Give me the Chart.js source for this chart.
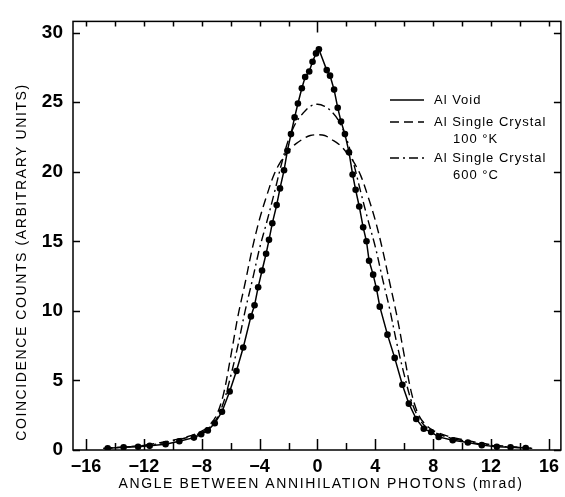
<!DOCTYPE html>
<html>
<head>
<meta charset="utf-8">
<script src="https://cdn.jsdelivr.net/npm/chart.js"></script>
<style>
  html, body { margin: 0; padding: 0; background: #fff; }
  #wrap { width: 565px; height: 497px; }
</style>
</head>
<body>
<div id="wrap"><canvas id="grafico" width="565" height="497"></canvas></div>
<script>
// Dados
const voidX = [-14.5, -13.4, -12.4, -11.6, -10.5, -9.55, -8.54, -8.04, -7.58, -7.1, -6.6, -6.07, -5.6, -5.13, -4.6, -4.35, -4.1, -3.83, -3.55, -3.35, -3.12, -2.82, -2.59, -2.31, -2.08, -1.83, -1.58, -1.35, -1.08, -0.85, -0.57, -0.34, -0.1, 0.1, 0.64, 0.87, 1.15, 1.4, 1.63, 1.9, 2.18, 2.43, 2.64, 2.89, 3.16, 3.39, 3.57, 3.85, 4.08, 4.31, 4.84, 5.34, 5.87, 6.32, 6.83, 7.35, 7.86, 8.38, 9.35, 10.4, 11.36, 12.4, 13.35, 14.4];
const voidY = [0.12, 0.19, 0.23, 0.30, 0.42, 0.63, 0.89, 1.13, 1.41, 1.92, 2.75, 4.2, 5.68, 7.37, 9.6, 10.4, 11.7, 12.9, 14.1, 15.1, 16.3, 17.6, 18.8, 20.1, 21.5, 22.7, 23.9, 24.9, 26.0, 26.8, 27.2, 27.9, 28.5, 28.8, 27.3, 26.9, 25.9, 24.6, 23.6, 22.7, 21.4, 19.8, 18.7, 17.5, 16.0, 15.0, 13.6, 12.6, 11.6, 10.3, 8.29, 6.62, 4.69, 3.33, 2.23, 1.53, 1.29, 0.94, 0.70, 0.54, 0.35, 0.23, 0.19, 0.14];

const crystal100X = [-14.8, -13, -12, -11, -10, -9, -8, -7.5, -7, -6.5, -6, -5.5, -5, -4.5, -4, -3.5, -3, -2.5, -2, -1.5, -1, -0.5, 0, 0.5, 1, 1.5, 2, 2.5, 3, 3.5, 4, 4.5, 5, 5.5, 6, 6.5, 7, 7.5, 8, 9, 10, 11, 12, 13, 14.85];
const crystal100Y = [0.12, 0.25, 0.35, 0.5, 0.7, 0.95, 1.35, 1.75, 2.45, 4.0, 6.7, 9.6, 12.0, 14.5, 16.6, 18.3, 19.8, 20.8, 21.5, 22.0, 22.35, 22.6, 22.65, 22.6, 22.3, 21.95, 21.4, 20.7, 19.7, 18.2, 16.5, 14.4, 12.0, 9.6, 6.8, 4.1, 2.5, 1.8, 1.4, 1.0, 0.75, 0.55, 0.38, 0.27, 0.12];

const crystal600X = [-14.8, -13, -12, -11, -10, -9, -8, -7.5, -7, -6.5, -6, -5.5, -5, -4.5, -4, -3.5, -3, -2.5, -2, -1.5, -1, -0.5, 0, 0.5, 1, 1.5, 2, 2.5, 3, 3.5, 4, 4.5, 5, 5.5, 6, 6.5, 7, 7.5, 8, 9, 10, 11, 12, 13, 14.85];
const crystal600Y = [0.12, 0.23, 0.32, 0.45, 0.65, 0.9, 1.25, 1.6, 2.2, 3.4, 5.3, 7.5, 10.0, 12.2, 14.5, 16.4, 18.4, 20.5, 22.3, 23.5, 24.2, 24.7, 24.85, 24.7, 24.3, 23.6, 22.4, 20.6, 18.5, 16.5, 14.6, 12.3, 10.1, 7.6, 5.4, 3.5, 2.3, 1.65, 1.3, 0.92, 0.68, 0.48, 0.33, 0.24, 0.12];

const xTickValues = [-16, -12, -8, -4, 0, 4, 8, 12, 16];
const xTickLabels = ['\u221216', '\u221212', '\u22128', '\u22124', '0', '4', '8', '12', '16'];
const xMinorValues = [-16, -14, -12, -10, -8, -6, -4, -2, 0, 2, 4, 6, 8, 10, 12, 14, 16];
const yTickValues = [0, 5, 10, 15, 20, 25, 30];
const yTickLabels = ['0', '5', '10', '15', '20', '25', '30'];

const seriesNames = ['Al Void', 'Al Single Crystal', 'Al Single Crystal'];
const seriesSubNames = ['', '100 \u00B0K', '600 \u00B0C'];
const xTitle = 'ANGLE BETWEEN ANNIHILATION PHOTONS (mrad)';
const yTitle = 'COINCIDENCE COUNTS (ARBITRARY UNITS)';

function pares(xs, ys) {
    return xs.map((x, i) => ({ x: x, y: ys[i] }));
}

const DASH = [9, 5];
const DASHDOT = [9, 4, 2, 4];
const FONTE = '"Liberation Sans", Arial, sans-serif';

// Moldura, marcas internas, titulos dos eixos e legenda
const molduraPlugin = {
    id: 'moldura',
    afterDraw(chart) {
        const ctx = chart.ctx;
        const a = chart.chartArea;
        const x = chart.scales.x;
        const y = chart.scales.y;
        ctx.save();
        ctx.strokeStyle = '#000';
        ctx.lineWidth = 1.5;
        ctx.setLineDash([]);
        ctx.strokeRect(a.left, a.top, a.right - a.left, a.bottom - a.top);

        ctx.beginPath();
        xMinorValues.forEach(v => {
            const px = Math.round(x.getPixelForValue(v)) + 0.5;
            const lenB = (v % 4 === 0) ? 11 : 7;
            ctx.moveTo(px, a.bottom);
            ctx.lineTo(px, a.bottom - lenB);
            const lenT = (v === 0) ? 11 : 5;
            ctx.moveTo(px, a.top);
            ctx.lineTo(px, a.top + lenT);
        });
        yTickValues.forEach(v => {
            const py = Math.round(y.getPixelForValue(v)) + 0.5;
            ctx.moveTo(a.left, py);
            ctx.lineTo(a.left + 7, py);
            ctx.moveTo(a.right, py);
            ctx.lineTo(a.right - 7, py);
        });
        ctx.stroke();

        // titulos dos eixos
        ctx.fillStyle = '#000';
        ctx.font = '14px ' + FONTE;
        ctx.letterSpacing = '1.6px';
        ctx.textAlign = 'center';
        ctx.textBaseline = 'middle';
        ctx.fillText(xTitle, 321, 484);
        ctx.save();
        ctx.translate(22, 262);
        ctx.rotate(-Math.PI / 2);
        ctx.fillText(yTitle, 0, 0);
        ctx.restore();

        // legenda
        ctx.font = '13px ' + FONTE;
        ctx.letterSpacing = '1px';
        ctx.textAlign = 'left';
        const linhas = [[], DASH, DASHDOT];
        const ys = [100, 122, 158];
        ctx.lineWidth = 1.3;
        for (let i = 0; i < 3; i++) {
            ctx.setLineDash(linhas[i]);
            ctx.beginPath();
            ctx.moveTo(390, ys[i]);
            ctx.lineTo(424, ys[i]);
            ctx.stroke();
            ctx.fillText(seriesNames[i], 434, ys[i]);
            if (seriesSubNames[i]) {
                ctx.fillText(seriesSubNames[i], 453, ys[i] + 17);
            }
        }
        ctx.restore();
    }
};

new Chart(document.getElementById('grafico'), {
    type: 'scatter',
    data: {
        datasets: [
            {
                label: 'Al Void',
                data: pares(voidX, voidY),
                showLine: true,
                borderColor: '#000',
                borderWidth: 1.5,
                backgroundColor: '#000',
                pointRadius: 3.3,
                pointBackgroundColor: '#000',
                pointBorderWidth: 0,
                tension: 0
            },
            {
                label: 'Al Single Crystal 100 K',
                data: pares(crystal100X, crystal100Y),
                showLine: true,
                borderColor: '#000',
                borderWidth: 1.4,
                borderDash: DASH,
                pointRadius: 0,
                tension: 0.35
            },
            {
                label: 'Al Single Crystal 600 C',
                data: pares(crystal600X, crystal600Y),
                showLine: true,
                borderColor: '#000',
                borderWidth: 1.4,
                borderDash: DASHDOT,
                pointRadius: 0,
                tension: 0.35
            }
        ]
    },
    options: {
        responsive: false,
        devicePixelRatio: 1,
        animation: false,
        layout: { padding: { top: 13, right: 1, left: 0, bottom: 0 } },
        plugins: {
            legend: { display: false },
            tooltip: { enabled: false }
        },
        scales: {
            x: {
                type: 'linear',
                min: -16.9,
                max: 16.83,
                grid: { display: false, drawTicks: false },
                border: { display: false },
                afterBuildTicks: s => { s.ticks = xTickValues.map(v => ({ value: v })); },
                afterFit: s => { s.height = 47; },
                ticks: {
                    padding: 6,
                    color: '#000',
                    font: { family: FONTE, size: 18, weight: 'bold' },
                    callback: (v) => xTickLabels[xTickValues.indexOf(v)]
                }
            },
            y: {
                type: 'linear',
                min: 0,
                max: 30.8,
                grid: { display: false, drawTicks: false },
                border: { display: false },
                afterBuildTicks: s => { s.ticks = yTickValues.map(v => ({ value: v })); },
                afterFit: s => { s.width = 73; },
                ticks: {
                    padding: 10,
                    color: '#000',
                    font: { family: FONTE, size: 19, weight: 'bold' },
                    callback: (v) => yTickLabels[yTickValues.indexOf(v)]
                }
            }
        }
    },
    plugins: [molduraPlugin]
});
</script>
</body>
</html>
